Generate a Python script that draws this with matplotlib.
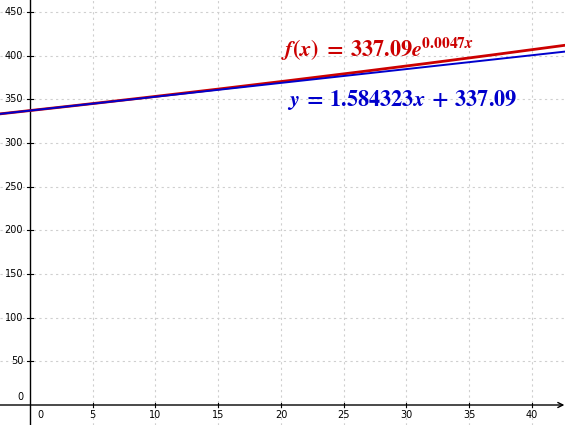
"""
Exponential vs linear fit, drawn in the style of a GeoGebra graphics view
"""
import numpy as np
import matplotlib.pyplot as plt

# fit coefficients as printed on the chart
exp_a = 337.09
exp_b = 0.0047
lin_m = 1.584323
lin_c = 337.09

x_ticks = [5, 10, 15, 20, 25, 30, 35, 40]
y_ticks = [50, 100, 150, 200, 250, 300, 350, 400, 450]

x_min, x_max = -2.39, 42.63
y_min, y_max = -22.9, 463.7

RED = '#cc0000'
BLUE = '#0000cc'

plt.rcParams['mathtext.fontset'] = 'stix'

fig = plt.figure(figsize=(5.65, 4.25), dpi=100)
ax = fig.add_axes([0, 0, 1, 1])
ax.set_xlim(x_min, x_max)
ax.set_ylim(y_min, y_max)

# grid
for gx in x_ticks:
    ax.axvline(gx, color='#cfcfcf', lw=0.8, ls=(0, (2, 3)), zorder=0)
for gy in y_ticks:
    ax.axhline(gy, color='#cfcfcf', lw=0.8, ls=(0, (2, 3)), zorder=0)

# axes
for s in ax.spines.values():
    s.set_visible(False)
ax.set_xticks([])
ax.set_yticks([])
ax.annotate('', xy=(x_max - 0.05, 0), xytext=(x_min, 0),
            arrowprops=dict(arrowstyle='->', color='black', lw=1.0,
                            mutation_scale=9, shrinkA=0, shrinkB=0))
ax.axvline(0, color='black', lw=1.0)

for t in x_ticks:
    ax.plot([t, t], [-2.5, 2.5], color='black', lw=0.8)
    ax.text(t, -6, str(t), ha='center', va='top', fontsize=7)
for t in y_ticks:
    ax.plot([-0.2, 0.2], [t, t], color='black', lw=0.8)
    ax.text(-0.55, t, str(t), ha='right', va='center', fontsize=7)
ax.text(0.6, -6, '0', ha='left', va='top', fontsize=7)
ax.text(-0.55, 3, '0', ha='right', va='bottom', fontsize=7)

# curves
xs = np.linspace(x_min, x_max, 300)
ax.plot(xs, exp_a * np.exp(exp_b * xs), color=RED, lw=2.0, zorder=3)
ax.plot(xs, lin_m * xs + lin_c, color=BLUE, lw=1.4, zorder=4)

ax.text(20.0, 398.5,
        r'$\boldsymbol{f(x)\ =\ 337.09e}^{\boldsymbol{0.0047x}}$',
        color=RED, fontsize=16, ha='left', va='baseline')
ax.text(20.5, 342.4, r'$\boldsymbol{y\;=\;1.584323x\;+\;337.09}$',
        color=BLUE, fontsize=16, ha='left', va='baseline')

fig.savefig('out.png', dpi=100)
